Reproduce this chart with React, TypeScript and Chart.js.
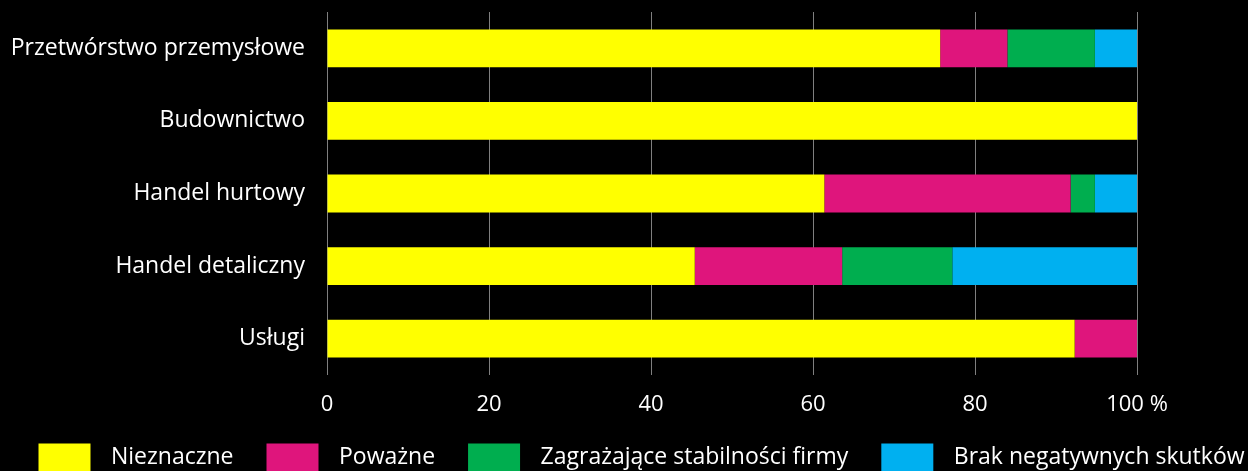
import React, { useEffect, useRef } from "react";
import { Chart, registerables } from "chart.js";

Chart.register(...registerables);

const categories = [
  "Przetwórstwo przemysłowe",
  "Budownictwo",
  "Handel hurtowy",
  "Handel detaliczny",
  "Usługi",
];

const seriesNames = [
  "Nieznaczne",
  "Poważne",
  "Zagrażające stabilności firmy",
  "Brak negatywnych skutków",
];

const nieznaczne = [75.7, 100, 61.4, 45.4, 92.3];
const powazne = [8.3, 0, 30.4, 18.2, 7.7];
const zagrazajace = [10.8, 0, 3.0, 13.6, 0];
const brak = [5.2, 0, 5.2, 22.8, 0];

const xTicks = [0, 20, 40, 60, 80, 100];

const colors = ["#FFFF00", "#DF157C", "#00AE4F", "#00B0F0"];

const FONT = "'Open Sans', sans-serif";
const SW_LEFT = 31;
const SW_W = 52;
const SW_TOTAL = 92;

function makeSwatch(color: string) {
  const c = document.createElement("canvas");
  c.width = SW_TOTAL;
  c.height = 28;
  const ctx = c.getContext("2d")!;
  ctx.fillStyle = color;
  ctx.fillRect(SW_LEFT, 0, SW_W, 28);
  return c;
}

export default function App() {
  const ref = useRef<HTMLCanvasElement | null>(null);

  useEffect(() => {
    if (!ref.current) return;
    const values = [nieznaczne, powazne, zagrazajace, brak];
    const swatches = colors.map(makeSwatch);
    const chart = new Chart(ref.current, {
      type: "bar",
      data: {
        labels: categories,
        datasets: seriesNames.map((name, i) => ({
          label: name,
          data: values[i],
          backgroundColor: colors[i],
          borderWidth: 0,
          categoryPercentage: 1,
          barPercentage: 0.52,
        })),
      },
      options: {
        indexAxis: "y",
        animation: false,
        responsive: false,
        maintainAspectRatio: false,
        layout: { padding: { top: 12, left: 4, right: 0, bottom: -7.5 } },
        scales: {
          x: {
            stacked: true,
            min: 0,
            max: 100,
            afterBuildTicks: (scale: any) => {
              scale.ticks = xTicks.map((v) => ({ value: v }));
            },
            afterFit: (scale: any) => {
              scale.height = 68.5;
              scale.paddingLeft = 0;
              scale.paddingRight = 0;
            },
            ticks: {
              color: "#FFFFFF",
              padding: 17,
              font: { family: FONT, size: 22 },
              callback: (v: any) => (v === 100 ? "100 %" : String(v)),
              maxRotation: 0,
              autoSkip: false,
            },
            grid: {
              color: "#7F7F7F",
              lineWidth: 1,
              drawTicks: false,
            },
            border: { display: false },
          },
          y: {
            stacked: true,
            afterFit: (scale: any) => {
              scale.width = 323;
              scale.paddingTop = 0;
              scale.paddingBottom = 0;
            },
            ticks: {
              color: "#FFFFFF",
              padding: 22,
              font: { family: FONT, size: 23 },
            },
            grid: { display: false, drawTicks: false },
            border: { display: false },
          },
          yRight: {
            type: "category",
            position: "right",
            afterFit: (scale: any) => {
              scale.width = 111;
              scale.paddingTop = 0;
              scale.paddingBottom = 0;
            },
            ticks: { display: false },
            grid: { display: false, drawTicks: false },
            border: { display: false },
          },
        },
        plugins: {
          legend: {
            position: "bottom",
            labels: {
              color: "#FFFFFF",
              usePointStyle: true,
              pointStyleWidth: SW_TOTAL,
              boxHeight: 23,
              padding: 2,
              font: { family: FONT, size: 23 },
              generateLabels: (c: any) =>
                Chart.defaults.plugins.legend.labels
                  .generateLabels(c)
                  .map((l: any, i: number) => ({ ...l, pointStyle: swatches[i] })),
            },
          },
          tooltip: { enabled: false },
        },
      },
      plugins: [
        {
          id: "bg",
          beforeDraw: (c: any) => {
            const ctx = c.ctx;
            ctx.save();
            ctx.fillStyle = "#000000";
            ctx.fillRect(0, 0, c.width, c.height);
            ctx.restore();
          },
        },
      ],
    });
    return () => chart.destroy();
  }, []);

  return (
    <div style={{ position: "absolute", left: 0, top: 0, width: 1248, height: 471, background: "#000" }}>
      <canvas ref={ref} width={1248} height={471} style={{ display: "block" }} />
    </div>
  );
}
